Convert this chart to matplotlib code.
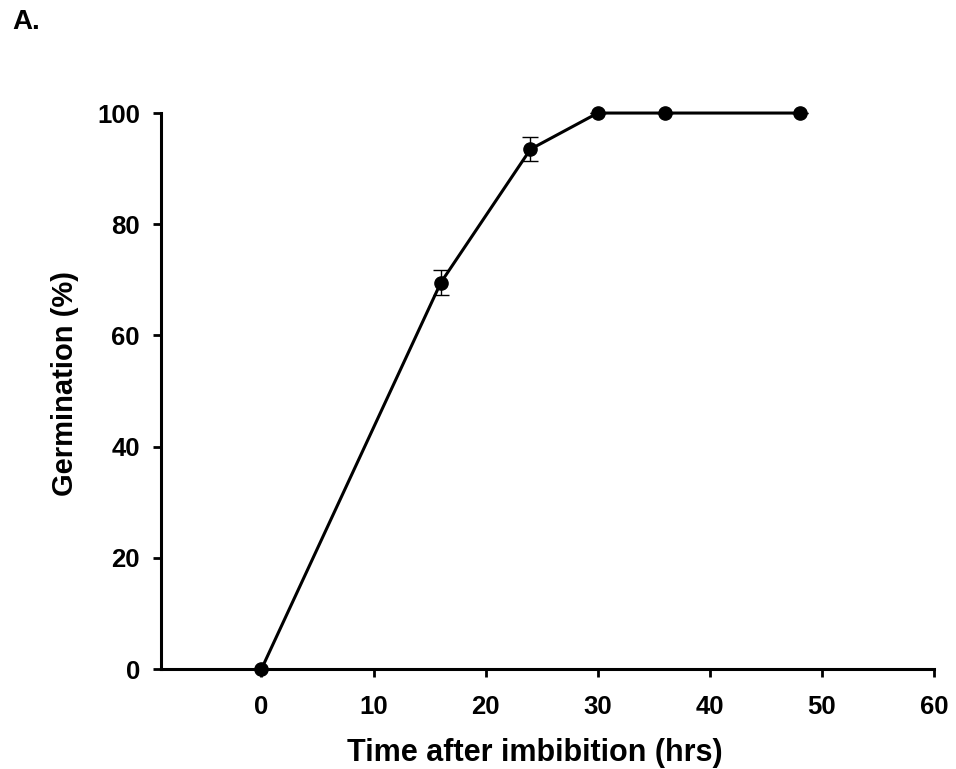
import matplotlib
matplotlib.use("Agg")
import matplotlib.pyplot as plt

plt.rcParams['font.family'] = ['Liberation Sans', 'DejaVu Sans']
plt.rcParams['font.weight'] = 'bold'

time_hrs = [0, 16, 24, 30, 36, 48]
germination = [0, 69.5, 93.5, 100, 100, 100]
err = [0, 2.3, 2.2, 0, 0, 0]
x_ticks = [0, 10, 20, 30, 40, 50, 60]
y_ticks = [0, 20, 40, 60, 80, 100]

fig = plt.figure(figsize=(9.56, 7.69), dpi=100)
ax = fig.add_axes([0.168, 0.130, 0.809, 0.723])

ax.errorbar(time_hrs, germination, yerr=err, color='black', lw=2.2, marker='o',
            markersize=9.5, capsize=5.5, elinewidth=1, capthick=1, clip_on=False, zorder=3)

ax.set_xlim(-9, 60)
ax.set_ylim(0, 100)
ax.set_xticks(x_ticks)
ax.set_yticks(y_ticks)
for s in ['top', 'right']:
    ax.spines[s].set_visible(False)
for s in ['left', 'bottom']:
    ax.spines[s].set_linewidth(2.2)
ax.tick_params(axis='both', direction='out', length=6, width=2, labelsize=18.5)
ax.tick_params(axis='x', pad=13)
ax.tick_params(axis='y', pad=9)
for lab in ax.get_xticklabels() + ax.get_yticklabels():
    lab.set_fontweight('bold')

ax.set_xlabel('Time after imbibition (hrs)', fontsize=22, fontweight='bold')
ax.set_ylabel('Germination (%)', fontsize=21, fontweight='bold')
ax.xaxis.set_label_coords(0.484, -0.124)
ax.yaxis.set_label_coords(-0.105, 0.513)

fig.text(0.013, 0.972, 'A.', fontsize=20, fontweight='bold', va='center', ha='left')

fig.savefig('out.png', dpi=100)
